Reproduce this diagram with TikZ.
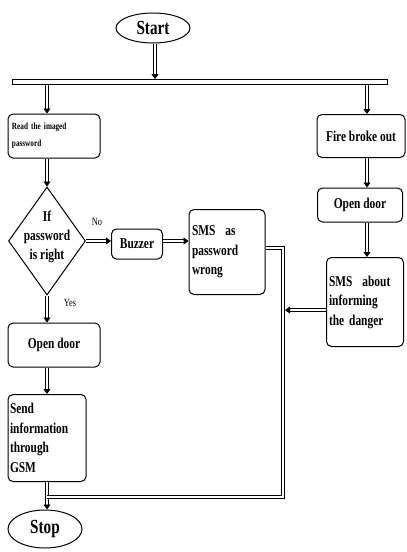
\documentclass[tikz,border=0pt]{standalone}
\usepackage{fontspec}
\setmainfont{Liberation Serif}[FakeStretch=0.76]
\usepackage{tikz}
\usetikzlibrary{shapes.geometric,arrows.meta,positioning}

\tikzset{
  box/.style={draw, line width=1pt, rounded corners=5pt, align=left, inner sep=2pt,
    font=\bfseries\fontsize{15}{19.5}\selectfont},
  term/.style={draw, ellipse, line width=1pt, inner sep=0pt,
    font=\bfseries\fontsize{20}{20}\selectfont},
  flow/.style={double, double distance=1.6pt, line width=0.8pt,
    -{Triangle[length=5pt,width=7pt]}},
  pipe/.style={double, double distance=1.6pt, line width=0.8pt},
  tag/.style={font=\fontsize{11}{12}\selectfont},
}

\begin{document}
\begin{tikzpicture}[x=1pt,y=-1pt]
    \useasboundingbox (0,0) rectangle (407,552);

    \node[term, minimum width=74, minimum height=30] (start) at (153,28) {Start};
    \node[draw, line width=0.8pt, minimum width=375, minimum height=5, inner sep=0pt] (bar) at (200,82) {};

    \node[box, minimum width=92, minimum height=44, text width=84,
      font=\bfseries\fontsize{9.5}{17}\selectfont] (read) at (54,136) {Read the imaged\\password};
    \node[draw, diamond, line width=1pt, minimum width=77, minimum height=108, inner sep=0pt] (dec) at (47,241) {};
    \node[align=center, font=\bfseries\fontsize{15}{19}\selectfont] (dectxt) at (47,237) {If\\password\\is right};
    \node[box, minimum width=51, minimum height=30] (buzz) at (137,244) {Buzzer};
    \node[box, minimum width=76, minimum height=85, text width=70] (smsw) at (227,252) {SMS\ \ as\\password\\wrong};
    \node[box, minimum width=92, minimum height=44] (openl) at (54,345) {Open door};
    \node[box, minimum width=78, minimum height=87, text width=74] (send) at (47,438) {Send\\information\\through\\GSM};
    \node[term, minimum width=74, minimum height=38] (stop) at (45,529) {Stop};

    \node[box, minimum width=88, minimum height=43] (fire) at (361,136) {Fire broke out};
    \node[box, minimum width=85, minimum height=34] (openr) at (360,205) {Open door};
    \node[box, minimum width=77, minimum height=89, text width=72] (smsa) at (365,302) {SMS\ \ about\\informing\\the danger};

    \node[tag] (no) at (97,222) {No};
    \node[tag] (yes) at (70,303) {Yes};

    \coordinate (rcol) at (367,0);
    \coordinate (bend1) at (283,248);
    \coordinate (bend2) at (283,497);
    \coordinate (join) at (47,497);

    \draw[flow] ([xshift=2pt]start.south) -- ([xshift=2pt]start.south |- bar.north);
    \draw[flow] (bar.south -| dec) -- (dec |- read.north);
    \draw[flow] (bar.south -| rcol) -- (fire.north -| rcol);
    \draw[flow] (dec |- read.south) -- (dec.north);
    \draw[flow] (dec.east) -- (dec.east -| buzz.west);
    \draw[flow] (dec.east -| buzz.east) -- (dec.east -| smsw.west);
    \draw[flow] (dec.south) -- (dec |- openl.north);
    \draw[flow] (dec |- openl.south) -- (send.north -| dec);
    \draw[flow] (send.south -| dec) -- (stop.north -| dec);
    \draw[flow] (fire.south -| rcol) -- (openr.north -| rcol);
    \draw[flow] (openr.south -| rcol) -- (smsa.north -| rcol);
    \draw[flow] (smsa.west |- 0,310) -- (285,310);
    \draw[pipe] (smsw.east |- bend1) -- (bend1) -- (bend2) -- (join);
\end{tikzpicture}
\end{document}
